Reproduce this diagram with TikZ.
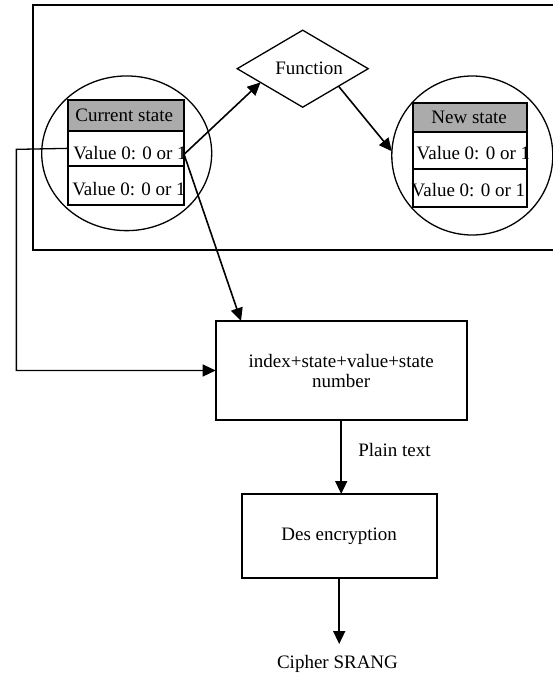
\documentclass[tikz,border=0pt]{standalone}
\usepackage{fontspec}
\setmainfont{Liberation Serif}
\usetikzlibrary{shapes.geometric,arrows.meta,calc}
\definecolor{hdrgray}{RGB}{171,171,171}
\begin{document}
\begin{tikzpicture}[x=1pt,y=-1pt,
  every node/.style={font=\fontsize{19}{20}\selectfont, inner sep=0pt, outer sep=0pt},
  framebox/.style={draw, line width=2pt, minimum width=560pt, minimum height=245pt},
  ring/.style={draw, ellipse, line width=1.3pt},
  cellbox/.style={draw, line width=1.8pt, fill=white},
  hdrbox/.style={draw, line width=1.8pt, fill=hdrgray},
  procbox/.style={draw, line width=1.8pt, align=center},
  conn/.style={draw, line width=1.6pt, -{Triangle[length=13pt,width=12pt]}},
  thinconn/.style={draw, line width=1.3pt, -{Triangle[length=13pt,width=12pt]}},
  plainline/.style={draw, line width=1.6pt}
]
\useasboundingbox (0,0) rectangle (552,675);

% outer frame (right side runs off the picture)
\node[framebox] (frame) at (312.7,127.5) {};

% circles
\node[ring, minimum width=170pt, minimum height=154.7pt] (lc) at (126.7,153.3) {};
\node[ring, minimum width=161pt, minimum height=159pt] (rc) at (472.3,155.5) {};

% left table
\node[hdrbox, minimum width=115.7pt, minimum height=30.7pt] (lh) at (126.2,115.35) {};
\node[cellbox, minimum width=115.7pt, minimum height=35.3pt] (lr1) at (126.2,148.35) {};
\node[cellbox, minimum width=115.7pt, minimum height=39pt] (lr2) at (126.2,185.5) {};
\node[anchor=base] (lht) at (124.2,121) {Current state};
\node[anchor=base west] (lr1t) at (73.3,159) {Value 0: 0 or 1};
\node[anchor=base west] (lr2t) at (72.3,195) {Value 0: 0 or 1};
\draw[line width=1.8pt] (lh.north west) rectangle (lr2.south east);

% right table
\node[hdrbox, minimum width=113.4pt, minimum height=29pt] (rh) at (470,117.8) {};
\node[cellbox, minimum width=113.4pt, minimum height=36.7pt] (rr1) at (470,150.65) {};
\node[cellbox, minimum width=113.4pt, minimum height=37.7pt] (rr2) at (470,187.85) {};
\node[anchor=base] (rht) at (469.2,123.3) {New state};
\node[anchor=base west] (rr1t) at (416.7,159.3) {Value 0: 0 or 1};
\node[anchor=base west] (rr2t) at (411.7,196.7) {Value 0: 0 or 1};
\draw[line width=1.8pt] (rh.north west) rectangle (rr2.south east);

% function diamond
\node[draw, diamond, aspect=1.7, minimum width=131pt, minimum height=77pt, line width=1.3pt] (fn) at (302.7,68.7) {\hspace*{13pt}Function};

% process boxes
\node[procbox, minimum width=251pt, minimum height=99pt] (main) at (341.2,370.5) {index+state+value+state\\number};
\node[procbox, minimum width=195pt, minimum height=84pt] (des) at (339.2,536) {Des encryption};

% labels
\node[anchor=base west] (pt) at (358.3,456) {Plain text};
\node[anchor=base] (cs) at (337.5,668) {Cipher SRANG};
\coordinate (ctip) at (339.2,644);

% connectors
\draw[conn] ([yshift=-6pt]lr1.east) -- (fn.198);
\draw[conn] ([yshift=-6pt]lr1.east) -- ([xshift=25.3pt]main.north west);
\draw[conn] (fn.334) -- (rc.177);
\draw[thinconn] (lr1.west) -- ++(-52,1) |- (main.west);
\draw[conn] (main.south) -- (main.south |- des.north);
\draw[conn] (des.south) -- (ctip);
\end{tikzpicture}
\end{document}
